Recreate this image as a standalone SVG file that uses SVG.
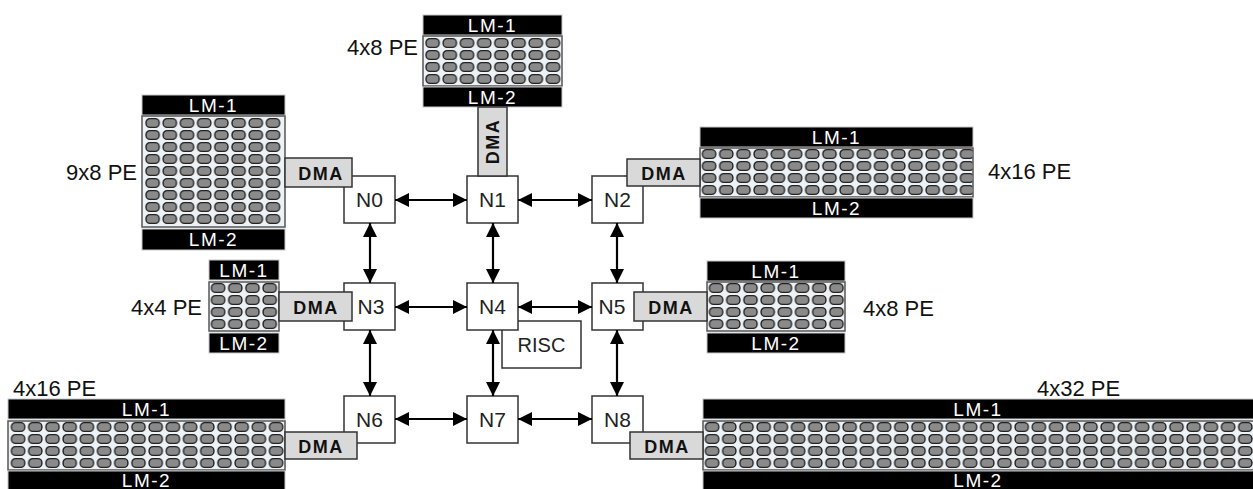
<svg xmlns="http://www.w3.org/2000/svg" width="1253" height="489" viewBox="0 0 1253 489">
<style>
text{font-family:"Liberation Sans",Arial,sans-serif;}
.node{fill:#fff;stroke:#333;stroke-width:1.5;}
.nl{font-size:21px;fill:#222;text-anchor:middle;}
.lm{fill:#000;stroke:#c8c8c8;stroke-width:1;}
.lmt{font-size:19px;fill:#fff;text-anchor:middle;letter-spacing:1.5px;}
.arr{fill:#edf2f7;stroke:#555;stroke-width:1.5;}
.dma{fill:#d9d9d9;stroke:#333;stroke-width:1.5;}
.dmat{font-size:18px;font-weight:bold;fill:#111;text-anchor:middle;letter-spacing:1.5px;}
.lbl{font-size:22px;fill:#111;}
.con{stroke:#000;stroke-width:2.2;fill:none;marker-start:url(#ah);marker-end:url(#ah);}
</style>
<defs>
<marker id="ah" viewBox="0 0 14 14" refX="14" refY="7" markerWidth="14" markerHeight="14" markerUnits="userSpaceOnUse" orient="auto-start-reverse">
<path d="M0,0 L14,7 L0,14 z" fill="#000"/>
</marker>
<pattern id="pe" patternUnits="userSpaceOnUse" width="17.2" height="12">
<rect x="2" y="1.6" width="13.2" height="8.8" rx="4" ry="4" fill="#8a8a8a" stroke="#222" stroke-width="1.4"/>
</pattern>
</defs>

<g id="risc">
<rect x="502" y="321" width="79" height="47" class="node"/>
<text x="541.5" y="352" class="nl" style="font-size:20px">RISC</text>
</g>

<g id="N0"><rect x="344" y="176" width="51" height="47" class="node"/><text x="369.5" y="207" class="nl">N0</text></g>
<g id="N1"><rect x="467" y="176" width="51" height="47" class="node"/><text x="492.5" y="207" class="nl">N1</text></g>
<g id="N2"><rect x="592" y="176" width="51" height="47" class="node"/><text x="617.5" y="207" class="nl">N2</text></g>
<g id="N3"><rect x="344" y="283" width="51" height="47" class="node"/><text x="371" y="314" class="nl">N3</text></g>
<g id="N4"><rect x="467" y="283" width="51" height="47" class="node"/><text x="492.5" y="314" class="nl">N4</text></g>
<g id="N5"><rect x="592" y="283" width="51" height="47" class="node"/><text x="612" y="314" class="nl">N5</text></g>
<g id="N6"><rect x="344" y="396" width="51" height="47" class="node"/><text x="369.5" y="427" class="nl">N6</text></g>
<g id="N7"><rect x="467" y="396" width="51" height="47" class="node"/><text x="492.5" y="427" class="nl">N7</text></g>
<g id="N8"><rect x="592" y="396" width="51" height="47" class="node"/><text x="617.5" y="427" class="nl">N8</text></g>

<g id="pe9x8">
<rect x="142" y="95" width="143" height="20" class="lm"/><text x="213.5" y="112" class="lmt">LM-1</text>
<g transform="translate(144,117)"><rect x="-2" y="-1" width="143" height="111" class="arr"/><rect x="0" y="0" width="137.6" height="109" fill="url(#pe)"/></g>
<rect x="142" y="229" width="143" height="21" class="lm"/><text x="213.5" y="246" class="lmt">LM-2</text>
<rect x="285" y="158" width="67" height="29" class="dma"/><text x="321" y="180" class="dmat">DMA</text>
<text x="137" y="180" class="lbl" text-anchor="end">9x8 PE</text>
</g>

<g id="pe4x8top">
<rect x="423" y="15" width="139" height="20" class="lm"/><text x="492.5" y="32" class="lmt">LM-1</text>
<g transform="translate(424,37)"><rect x="-1" y="-1" width="139" height="50" class="arr"/><rect x="0" y="0" width="137.6" height="48" fill="url(#pe)"/></g>
<rect x="423" y="87" width="139" height="20" class="lm"/><text x="492.5" y="104" class="lmt">LM-2</text>
<rect x="478" y="107" width="29" height="69" class="dma"/><text transform="translate(499,141.5) rotate(-90)" class="dmat">DMA</text>
<text x="418" y="55" class="lbl" text-anchor="end">4x8 PE</text>
</g>

<g id="pe4x16top">
<rect x="700" y="127" width="273" height="20" class="lm"/><text x="836.5" y="144" class="lmt">LM-1</text>
<g transform="translate(700.5,148)"><rect x="-0.5" y="0" width="273" height="49" class="arr"/><rect x="0" y="0.5" width="272" height="48" fill="url(#pe)"/></g>
<rect x="700" y="198" width="273" height="20" class="lm"/><text x="836.5" y="215" class="lmt">LM-2</text>
<rect x="627" y="159" width="73" height="27" class="dma"/><text x="664" y="180" class="dmat">DMA</text>
<text x="988" y="179" class="lbl">4x16 PE</text>
</g>

<g id="pe4x4">
<rect x="209" y="260" width="70" height="20" class="lm"/><text x="244" y="277" class="lmt">LM-1</text>
<g transform="translate(209.5,282)"><rect x="-0.5" y="0" width="70" height="49" class="arr"/><rect x="0" y="0.5" width="68.8" height="48" fill="url(#pe)"/></g>
<rect x="209" y="333" width="70" height="20" class="lm"/><text x="244" y="350" class="lmt">LM-2</text>
<rect x="279" y="292" width="73" height="29" class="dma"/><text x="316" y="314" class="dmat">DMA</text>
<text x="202" y="315" class="lbl" text-anchor="end">4x4 PE</text>
</g>

<g id="pe4x8mid">
<rect x="707" y="261" width="138" height="20" class="lm"/><text x="776" y="278" class="lmt">LM-1</text>
<g transform="translate(707.5,282)"><rect x="-0.5" y="0" width="138" height="49" class="arr"/><rect x="0" y="0.5" width="137.6" height="48" fill="url(#pe)"/></g>
<rect x="707" y="333" width="138" height="20" class="lm"/><text x="776" y="350" class="lmt">LM-2</text>
<rect x="634" y="292" width="73" height="29" class="dma"/><text x="671" y="314" class="dmat">DMA</text>
<text x="863" y="316" class="lbl">4x8 PE</text>
</g>

<g id="pe4x16bot">
<rect x="8" y="399" width="277" height="20" class="lm"/><text x="146.5" y="416" class="lmt">LM-1</text>
<g transform="translate(9.5,421)"><rect x="-1.5" y="0" width="277" height="49" class="arr"/><rect x="0" y="0.5" width="275.2" height="48" fill="url(#pe)"/></g>
<rect x="8" y="471" width="277" height="22" class="lm"/><text x="146.5" y="487" class="lmt">LM-2</text>
<rect x="285" y="432" width="72" height="27" class="dma"/><text x="321" y="453" class="dmat">DMA</text>
<text x="13" y="396" class="lbl">4x16 PE</text>
</g>

<g id="pe4x32">
<rect x="703" y="399" width="552" height="20" class="lm"/><text x="978" y="416" class="lmt">LM-1</text>
<g transform="translate(703.5,421)"><rect x="-0.5" y="0" width="552" height="49" class="arr"/><rect x="0" y="0.5" width="550.4" height="48" fill="url(#pe)"/></g>
<rect x="703" y="471" width="552" height="22" class="lm"/><text x="978" y="487" class="lmt">LM-2</text>
<rect x="630" y="432" width="73" height="27" class="dma"/><text x="667" y="453" class="dmat">DMA</text>
<text x="1037" y="396" class="lbl">4x32 PE</text>
</g>

<g id="connectors">
<line x1="395" y1="200" x2="467" y2="200" class="con"/>
<line x1="518" y1="200" x2="592" y2="200" class="con"/>
<line x1="395" y1="307" x2="467" y2="307" class="con"/>
<line x1="518" y1="307" x2="592" y2="307" class="con"/>
<line x1="395" y1="419" x2="467" y2="419" class="con"/>
<line x1="518" y1="419" x2="592" y2="419" class="con"/>
<line x1="370" y1="223" x2="370" y2="283" class="con"/>
<line x1="370" y1="330" x2="370" y2="396" class="con"/>
<line x1="493" y1="223" x2="493" y2="283" class="con"/>
<line x1="493" y1="330" x2="493" y2="396" class="con"/>
<line x1="617" y1="223" x2="617" y2="283" class="con"/>
<line x1="617" y1="330" x2="617" y2="396" class="con"/>
</g>
</svg>
